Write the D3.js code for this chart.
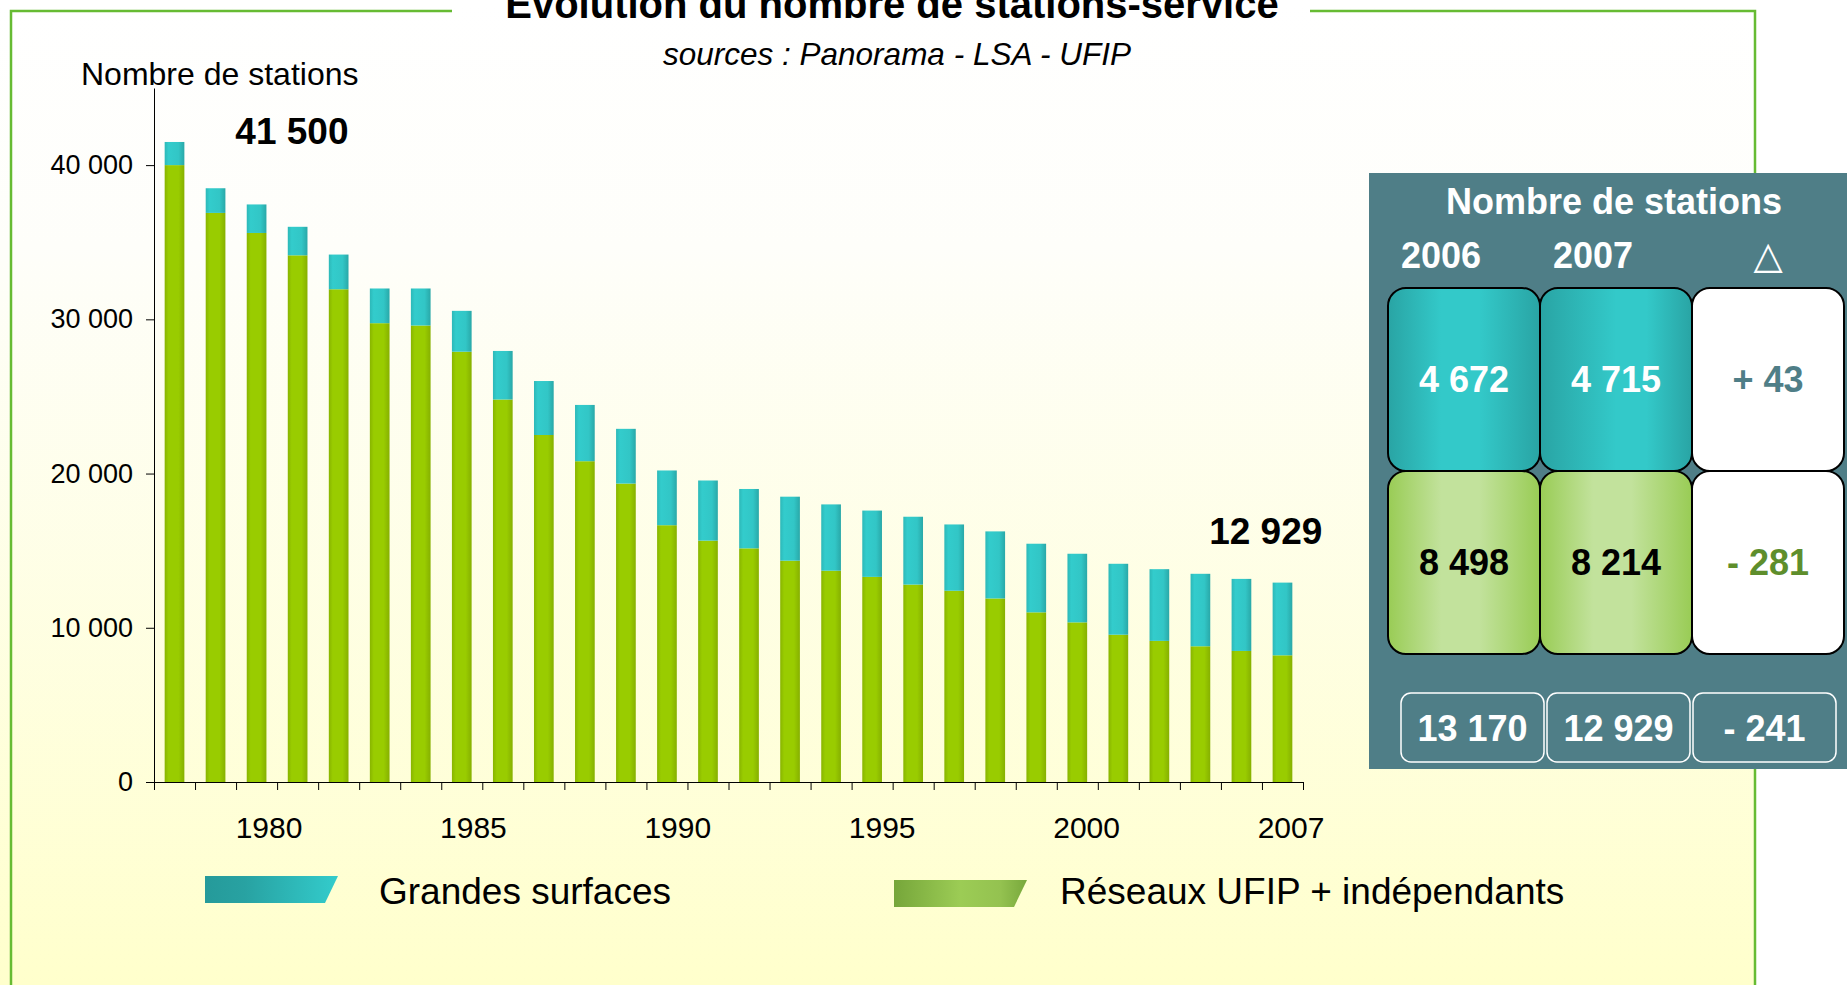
<!DOCTYPE html>
<html>
<head>
<meta charset="utf-8">
<script src="https://cdn.jsdelivr.net/npm/d3@7"></script>
<style>
body { margin: 0; background: #fff; }
text { font-family: "Liberation Sans", Arial, sans-serif; }
</style>
</head>
<body>
<script>
// values (2006 / 2007 taken from the table)
var years = [1980, 1981, 1982, 1983, 1984, 1985, 1986, 1987, 1988, 1989,
             1990, 1991, 1992, 1993, 1994, 1995, 1996, 1997, 1998, 1999,
             2000, 2001, 2002, 2003, 2004, 2005, 2006, 2007];
var reseaux = [40000, 36900, 35600, 34150, 31950, 29750, 29600, 27900, 24800, 22500,
               20800, 19350, 16650, 15650, 15150, 14350, 13700, 13300, 12800, 12400,
               11900, 11000, 10350, 9550, 9150, 8800, 8498, 8214];
var grandesSurfaces = [1500, 1600, 1850, 1850, 2250, 2250, 2400, 2650, 3150, 3500,
                       3650, 3550, 3550, 3900, 3850, 4150, 4300, 4300, 4400, 4300,
                       4350, 4450, 4450, 4600, 4650, 4700, 4672, 4715];
var yTicks = [0, 10000, 20000, 30000, 40000];
var yearLabels = ["1980", "1985", "1990", "1995", "2000", "2007"];
var seriesNames = ["Grandes surfaces", "Réseaux UFIP + indépendants"];

// summary table
var tableYears = ["2006", "2007"];
var tableGS = [4672, 4715];
var tableReseaux = [8498, 8214];
var tableTotals = [13170, 12929];
var tableDeltas = [43, -281, -241];

var W = 1847, H = 985;
var plot = { left: 154, right: 1303, top: 88, bottom: 782 };

var fr = d3.formatLocale({ decimal: ",", thousands: " ", grouping: [3], currency: ["", " €"] });
var fmt = fr.format(",d");
var fmtDelta = function (v) { return (v > 0 ? "+ " : "- ") + fmt(Math.abs(v)); };

var svg = d3.select("body").append("svg")
    .attr("width", W)
    .attr("height", H);

var defs = svg.append("defs");

function gradient(id, stops, vertical) {
    var g = defs.append("linearGradient").attr("id", id)
        .attr("x1", 0).attr("y1", 0)
        .attr("x2", vertical ? 0 : 1).attr("y2", vertical ? 1 : 0);
    stops.forEach(function (s) {
        g.append("stop").attr("offset", s[0]).attr("stop-color", s[1]);
    });
}

gradient("bg", [[0, "#ffffff"], [0.25, "#fefefa"], [1, "#ffffcc"]], true);
gradient("barGreen", [[0, "#88b400"], [0.2, "#99cc00"], [0.7, "#99cc00"], [1, "#86b000"]]);
gradient("barTeal", [[0, "#2db8b8"], [0.2, "#33cccc"], [0.7, "#32c6c6"], [1, "#29a8a8"]]);
gradient("boxTeal", [[0, "#29a4a4"], [0.35, "#33c9c9"], [0.6, "#33c9c9"], [1, "#29a4a4"]]);
gradient("boxTeal2", [[0, "#29a4a4"], [0.5, "#33c9c9"], [0.7, "#33c9c9"], [1, "#29a4a4"]]);
gradient("boxGreen", [[0, "#99cc55"], [0.35, "#c2e29c"], [0.6, "#c2e29c"], [1, "#99cc55"]]);
gradient("legTeal", [[0, "#259a9a"], [0.3, "#28a2a2"], [1, "#33cccc"]]);
gradient("legGreen", [[0, "#76a63a"], [0.5, "#9ccc55"], [0.8, "#94c250"], [1, "#78a83c"]]);

// background and frame
svg.append("rect")
    .attr("x", 0).attr("y", 0)
    .attr("width", 1755).attr("height", H)
    .attr("fill", "url(#bg)");

svg.append("path")
    .attr("d", "M11," + H + "V11H452M1310,11H1755V" + H)
    .attr("fill", "none")
    .attr("stroke", "#66bb33")
    .attr("stroke-width", 2.5);

// titles (the top of the title is cut by the page edge, as in the source)
svg.append("text")
    .attr("x", 892).attr("y", 18)
    .attr("text-anchor", "middle")
    .style("font-size", "40px").style("font-weight", "bold")
    .text("Évolution du nombre de stations-service");

svg.append("text")
    .attr("x", 897).attr("y", 65)
    .attr("text-anchor", "middle")
    .style("font-size", "31.5px").style("font-style", "italic")
    .text("sources : Panorama - LSA - UFIP");

svg.append("text")
    .attr("x", 81).attr("y", 85)
    .style("font-size", "32px")
    .text("Nombre de stations");

// scales
var x = d3.scaleBand().domain(years).range([plot.left, plot.right])
    .paddingInner(0.52).paddingOuter(0.26);
var xEdges = d3.scaleLinear().domain([years[0], years[years.length - 1] + 1]).range([plot.left, plot.right]);
var y = d3.scaleLinear().domain([0, 45000]).range([plot.bottom, plot.top]);
var xLabels = d3.scalePoint().domain(yearLabels).range([269, 1291]);

var rows = years.map(function (yr, i) {
    return { year: yr, reseaux: reseaux[i], gs: grandesSurfaces[i] };
});
var stacked = d3.stack().keys(["reseaux", "gs"])(rows);
var fills = { reseaux: "url(#barGreen)", gs: "url(#barTeal)" };

svg.append("g").selectAll("g")
    .data(stacked)
    .enter().append("g")
    .attr("fill", function (d) { return fills[d.key]; })
    .selectAll("rect")
    .data(function (d) { return d; })
    .enter().append("rect")
    .attr("x", function (d) { return x(d.data.year); })
    .attr("y", function (d) { return y(d[1]); })
    .attr("width", x.bandwidth())
    .attr("height", function (d) { return y(d[0]) - y(d[1]); });

// axes
var yAxis = d3.axisLeft(y).tickValues(yTicks).tickSize(8).tickSizeOuter(0).tickPadding(13)
    .tickFormat(fmt);
var xAxis = d3.axisBottom(xEdges).tickValues(years.concat([years[years.length - 1] + 1]))
    .tickSize(8).tickSizeOuter(0).tickFormat("");

svg.append("g")
    .attr("transform", "translate(" + plot.left + ",0)")
    .call(yAxis)
    .call(function (g) {
        g.selectAll("text").style("font-size", "27px").attr("fill", "#000")
            .style("font-family", "'Liberation Sans', Arial, sans-serif");
        g.selectAll("line, path").attr("stroke", "#000");
    });

svg.append("g")
    .attr("transform", "translate(0," + plot.bottom + ")")
    .call(xAxis)
    .call(function (g) { g.selectAll("line, path").attr("stroke", "#000"); });

svg.append("g").selectAll("text")
    .data(yearLabels)
    .enter().append("text")
    .attr("x", function (d) { return xLabels(d); })
    .attr("y", 838)
    .attr("text-anchor", "middle")
    .style("font-size", "30px")
    .text(function (d) { return d; });

// first / last totals
var first = rows[0], last = rows[rows.length - 1];
svg.append("text")
    .attr("x", x(first.year) + x.bandwidth() + 51)
    .attr("y", y(first.reseaux + first.gs) + 2)
    .style("font-size", "37px").style("font-weight", "bold")
    .text(fmt(first.reseaux + first.gs));
svg.append("text")
    .attr("x", x(last.year) + x.bandwidth() + 30)
    .attr("y", y(last.reseaux + last.gs) - 39)
    .attr("text-anchor", "end")
    .style("font-size", "37px").style("font-weight", "bold")
    .text(fmt(last.reseaux + last.gs));

// legend
var legend = [
    { name: seriesNames[0], fill: "url(#legTeal)", x: 205, y: 876, tx: 379 },
    { name: seriesNames[1], fill: "url(#legGreen)", x: 894, y: 880, tx: 1060 }
];
var lg = svg.append("g").selectAll("g").data(legend).enter().append("g");
lg.append("path")
    .attr("d", function (d) {
        return "M" + d.x + "," + d.y + "h133l-13,27h-120z";
    })
    .attr("fill", function (d) { return d.fill; });
lg.append("text")
    .attr("x", function (d) { return d.tx; })
    .attr("y", 904)
    .style("font-size", "37px")
    .text(function (d) { return d.name; });

// summary panel
var panel = svg.append("g");
panel.append("rect")
    .attr("x", 1369).attr("y", 173)
    .attr("width", W - 1369).attr("height", 596)
    .attr("fill", "#4f7e87");

panel.append("text")
    .attr("x", 1614).attr("y", 214)
    .attr("text-anchor", "middle")
    .attr("fill", "#fff")
    .style("font-size", "36px").style("font-weight", "bold")
    .text("Nombre de stations");

var cols = d3.scaleBand().domain([0, 1, 2]).range([1388, 1844]);
var headers = tableYears.concat(["△"]);

panel.selectAll(".hdr")
    .data(headers)
    .enter().append("text")
    .attr("class", "hdr")
    .attr("x", function (d, i) { return cols(i) + cols.bandwidth() / 2 - (i < 2 ? 23 : 0); })
    .attr("y", 268)
    .attr("text-anchor", "middle")
    .attr("fill", "#fff")
    .style("font-size", function (d, i) { return i < 2 ? "36px" : "38px"; })
    .style("font-weight", function (d, i) { return i < 2 ? "bold" : "normal"; })
    .style("font-family", function (d, i) { return i < 2 ? null : "'DejaVu Sans', sans-serif"; })
    .text(function (d) { return d; });

var cells = [];
tableYears.forEach(function (yr, i) {
    cells.push({ col: i, row: 0, fill: i === 0 ? "url(#boxTeal)" : "url(#boxTeal2)", text: fmt(tableGS[i]), color: "#fff" });
    cells.push({ col: i, row: 1, fill: "url(#boxGreen)", text: fmt(tableReseaux[i]), color: "#000" });
});
cells.push({ col: 2, row: 0, fill: "#fff", text: fmtDelta(tableDeltas[0]), color: "#4f7e87" });
cells.push({ col: 2, row: 1, fill: "#fff", text: fmtDelta(tableDeltas[1]), color: "#5e8e2c" });

var rowsY = d3.scaleBand().domain([0, 1]).range([288, 654]);

var cg = panel.selectAll(".cell").data(cells).enter().append("g").attr("class", "cell");
cg.append("rect")
    .attr("x", function (d) { return cols(d.col); })
    .attr("y", function (d) { return rowsY(d.row); })
    .attr("width", cols.bandwidth())
    .attr("height", rowsY.bandwidth())
    .attr("rx", 18)
    .attr("fill", function (d) { return d.fill; })
    .attr("stroke", "#000")
    .attr("stroke-width", 2);
cg.append("text")
    .attr("x", function (d) { return cols(d.col) + cols.bandwidth() / 2; })
    .attr("y", function (d) { return rowsY(d.row) + rowsY.bandwidth() / 2; })
    .attr("dy", "0.36em")
    .attr("text-anchor", "middle")
    .attr("fill", function (d) { return d.color; })
    .style("font-size", "36px").style("font-weight", "bold")
    .text(function (d) { return d.text; });

var totals = tableTotals.map(fmt).concat([fmtDelta(tableDeltas[2])]);
var tg = panel.selectAll(".tot").data(totals).enter().append("g").attr("class", "tot");
tg.append("rect")
    .attr("x", function (d, i) { return cols(i) + 13 - i * 6; })
    .attr("y", 693)
    .attr("width", 143)
    .attr("height", 69)
    .attr("rx", 10)
    .attr("fill", "none")
    .attr("stroke", "#fff")
    .attr("stroke-width", 1.5);
tg.append("text")
    .attr("x", function (d, i) { return cols(i) + 13 - i * 6 + 71.5; })
    .attr("y", 728)
    .attr("dy", "0.36em")
    .attr("text-anchor", "middle")
    .attr("fill", "#fff")
    .style("font-size", "36px").style("font-weight", "bold")
    .text(function (d) { return d; });
</script>
</body>
</html>
